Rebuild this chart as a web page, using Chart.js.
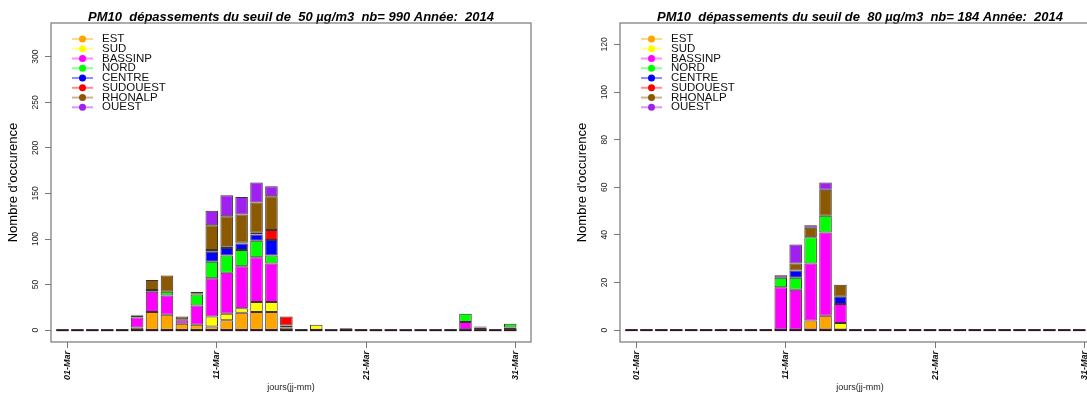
<!DOCTYPE html>
<html>
<head>
<meta charset="utf-8">
<script src="https://cdn.jsdelivr.net/npm/chart.js@4"></script>
<style>
  body { margin: 0; background: #fff; width: 1087px; height: 394px; overflow: hidden; position: relative; }
  canvas { position: absolute; top: 0; }
  #chart50 { left: 0; }
  #chart80 { left: 569px; }
</style>
</head>
<body>
<canvas id="chart50" width="569" height="394"></canvas>
<canvas id="chart80" width="569" height="394"></canvas>
<script>
const days = [1, 2, 3, 4, 5, 6, 7, 8, 9, 10, 11, 12, 13, 14, 15, 16, 17, 18, 19, 20, 21, 22, 23, 24, 25, 26, 27, 28, 29, 30, 31];
const tickDays = [1, 11, 21, 31];
const tickLabels = ['01-Mar', '11-Mar', '21-Mar', '31-Mar'];
const regions = ['EST', 'SUD', 'BASSINP', 'NORD', 'CENTRE', 'SUDOUEST', 'RHONALP', 'OUEST'];
const regionColors = ['#FFA500', '#FFFF00', '#FF00FF', '#00FF00', '#0000FF', '#FF0000', '#8B5A00', '#A020F0'];

// seuil 50 µg/m3
const est50      = [0,0,0,0,0,3,20,17,7,6,4,11,19,20,20,0,0,0,0,0,0,0,0,0,0,0,0,1,0,0,1];
const sud50      = [0,0,0,0,0,0,0,0,0,0,11,7,5,11,11,3,0,6,0,2,0,0,0,0,0,0,0,0,0,0,0];
const bassinp50  = [0,0,0,0,1,11,22,21,4,21,42,45,46,49,42,0,0,0,0,0,0,0,0,0,0,0,1,8,1,0,2];
const nord50     = [0,0,0,0,0,2,0,4,0,12,18,19,18,18,9,0,0,0,0,0,0,0,0,0,0,0,0,9,2,0,4];
const centre50   = [0,0,0,0,0,0,1,0,0,0,11,8,7,7,17,2,0,0,0,0,0,0,0,0,0,0,0,0,0,0,0];
const sudouest50 = [0,0,0,0,0,0,1,0,1,1,2,2,1,2,11,10,1,0,0,0,0,0,0,0,0,0,0,0,0,0,0];
const rhonalp50  = [0,0,0,0,0,1,11,18,3,2,27,33,31,33,37,0,0,0,0,0,1,0,0,0,0,0,0,0,1,0,0];
const ouest50    = [0,0,0,0,0,0,0,0,0,0,16,23,19,22,11,0,0,0,0,0,0,0,0,0,0,0,0,0,0,0,0];

// seuil 80 µg/m3
const est80      = [0,0,0,0,0,0,0,0,0,0,0,0,4,6,0,0,0,0,0,0,0,0,0,0,0,0,0,0,0,0,0];
const sud80      = [0,0,0,0,0,0,0,0,0,0,0,0,0,0,3,0,0,0,0,0,0,0,0,0,0,0,0,0,0,0,0];
const bassinp80  = [0,0,0,0,0,0,0,0,0,0,18,17,24,35,8,0,0,0,0,0,0,0,0,0,0,0,0,0,0,0,0];
const nord80     = [0,0,0,0,0,0,0,0,0,0,4,5,11,7,0,0,0,0,0,0,0,0,0,0,0,0,0,0,0,0,0];
const centre80   = [0,0,0,0,0,0,0,0,0,0,0,3,0,0,3,0,0,0,0,0,0,0,0,0,0,0,0,0,0,0,0];
const sudouest80 = [0,0,0,0,0,0,0,0,0,0,0,0,0,0,0,0,0,0,0,0,0,0,0,0,0,0,0,0,0,0,0];
const rhonalp80  = [0,0,0,0,0,0,0,0,0,0,0,3,4,11,5,0,0,0,0,0,0,0,0,0,0,0,0,0,0,0,0];
const ouest80    = [0,0,0,0,0,0,0,0,0,0,1,8,1,3,0,0,0,0,0,0,0,0,0,0,0,0,0,0,0,0,0];

const yTicks50 = [0, 50, 100, 150, 200, 250, 300];
const yTicks80 = [0, 20, 40, 60, 80, 100, 120];

const FONT = "'Liberation Sans', Arial, sans-serif";
Chart.defaults.font.family = FONT;
Chart.defaults.color = '#000';

// R-like frame: zero dashes, box, rotated y labels, legend in the plot
const rFrame = {
    id: 'rFrame',
    beforeDatasetsDraw(chart) {
        const ctx = chart.ctx;
        const y0 = chart.scales.y.getPixelForValue(0);
        ctx.save();
        ctx.strokeStyle = '#2a1426';
        ctx.lineWidth = 2;
        chart.getDatasetMeta(0).data.forEach(bar => {
            const {x, width} = bar.getProps(['x', 'width'], true);
            ctx.beginPath();
            ctx.moveTo(x - width / 2, y0);
            ctx.lineTo(x + width / 2, y0);
            ctx.stroke();
        });
        ctx.restore();
    },
    afterDraw(chart) {
        const ctx = chart.ctx;
        const a = chart.chartArea;
        const yScale = chart.scales.y;
        ctx.save();
        ctx.strokeStyle = '#777';
        ctx.lineWidth = 1.2;
        ctx.strokeRect(a.left, a.top, a.right - a.left, a.bottom - a.top);

        ctx.fillStyle = '#222';
        ctx.font = '8.5px ' + FONT;
        ctx.textAlign = 'center';
        ctx.textBaseline = 'middle';
        yScale.ticks.forEach(t => {
            ctx.save();
            ctx.translate(a.left - 15, yScale.getPixelForValue(t.value));
            ctx.rotate(-Math.PI / 2);
            ctx.fillText(String(t.value), 0, 0);
            ctx.restore();
        });

        ctx.font = '11.5px ' + FONT;
        ctx.textAlign = 'left';
        regions.forEach((name, i) => {
            const y = a.top + 16 + i * 9.76;
            ctx.globalAlpha = 0.45;
            ctx.strokeStyle = regionColors[i];
            ctx.lineWidth = 2;
            ctx.beginPath();
            ctx.moveTo(a.left + 21, y);
            ctx.lineTo(a.left + 42, y);
            ctx.stroke();
            ctx.globalAlpha = 1;
            ctx.fillStyle = regionColors[i];
            ctx.beginPath();
            ctx.arc(a.left + 31.5, y, 3.5, 0, Math.PI * 2);
            ctx.fill();
            ctx.fillStyle = '#111';
            ctx.fillText(name, a.left + 51, y);
        });
        ctx.restore();
    }
};

function makeChart(id, series, title, yMin, yMax, yTicks) {
    const ctx = document.getElementById(id).getContext('2d');
    return new Chart(ctx, {
        type: 'bar',
        data: {
            datasets: series.map((values, i) => ({
                label: regions[i],
                data: values.map((v, j) => ({x: days[j], y: v})),
                backgroundColor: regionColors[i],
                borderColor: 'rgba(40,25,25,0.9)',
                borderWidth: 1,
                borderSkipped: false,
                barPercentage: 0.84,
                categoryPercentage: 1
            }))
        },
        options: {
            responsive: false,
            animation: false,
            layout: { padding: { left: 0, right: 38, top: 0, bottom: 0 } },
            plugins: {
                legend: { display: false },
                tooltip: { enabled: false },
                title: {
                    display: true,
                    text: title,
                    fullSize: false,
                    color: '#000',
                    font: { size: 13, weight: 'bold', style: 'italic' },
                    padding: { top: 9.8, bottom: -2.4 }
                }
            },
            scales: {
                x: {
                    type: 'linear',
                    stacked: true,
                    offset: false,
                    min: 0.23,
                    max: 32.39,
                    afterBuildTicks: s => { s.ticks = tickDays.map(d => ({value: d + 0.35})); },
                    afterFit: s => { s.height = 52; },
                    grid: { offset: false, drawOnChartArea: false, drawTicks: true, tickLength: 6, color: '#777' },
                    border: { display: false },
                    ticks: {
                        autoSkip: false,
                        minRotation: 90,
                        maxRotation: 90,
                        padding: 3,
                        color: '#111',
                        font: { size: 9, weight: 'bold', style: 'italic' },
                        callback: (value, index) => tickLabels[index]
                    },
                    title: {
                        display: true,
                        text: 'jours(jj-mm)',
                        color: '#222',
                        font: { size: 9 },
                        padding: { top: 0, bottom: 1 }
                    }
                },
                y: {
                    stacked: true,
                    min: yMin,
                    max: yMax,
                    afterBuildTicks: s => { s.ticks = yTicks.map(v => ({value: v})); },
                    afterFit: s => { s.width = 51; },
                    grid: { drawOnChartArea: false, drawTicks: true, tickLength: 6, color: '#777' },
                    border: { display: false },
                    ticks: { display: false },
                    title: {
                        display: true,
                        text: "Nombre d'occurence",
                        color: '#000',
                        font: { size: 13 },
                        padding: { top: 6, bottom: 0 }
                    }
                }
            }
        },
        plugins: [rFrame]
    });
}

makeChart('chart50',
    [est50, sud50, bassinp50, nord50, centre50, sudouest50, rhonalp50, ouest50],
    'PM10  dépassements du seuil de  50 µg/m3  nb= 990 Année:  2014',
    -13, 337, yTicks50);

makeChart('chart80',
    [est80, sud80, bassinp80, nord80, centre80, sudouest80, rhonalp80, ouest80],
    'PM10  dépassements du seuil de  80 µg/m3  nb= 184 Année:  2014',
    -5, 129, yTicks80);
</script>
</body>
</html>
